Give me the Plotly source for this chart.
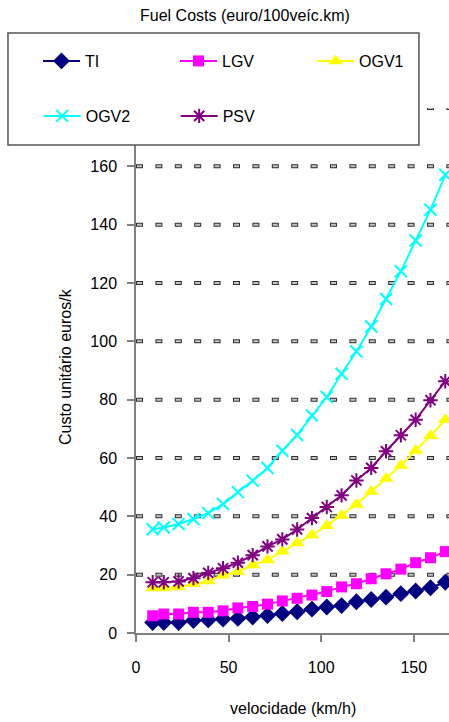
import plotly.graph_objects as go

# Vehicle speed (km/h)
speed = [9, 15, 23, 31, 39, 47, 55, 63, 71, 79, 87, 95, 103, 111, 119, 127, 135, 143, 151, 159, 167]

# Fuel cost per vehicle category (euro / 100 veh.km)
ti = [3.6, 3.6, 3.6, 4.3, 4.5, 4.8, 5.0, 5.5, 6.0, 6.7, 7.3, 8.2, 8.9, 9.4, 10.7, 11.5, 12.3, 13.5, 14.4, 15.5, 17.4]
lgv = [5.9, 6.5, 6.5, 7.1, 7.1, 7.6, 8.6, 9.1, 9.9, 11.0, 11.9, 13.0, 14.2, 15.8, 16.9, 18.6, 20.3, 21.9, 24.1, 25.8, 27.9]
ogv1 = [15.4, 15.4, 15.8, 16.9, 17.8, 19.8, 21.0, 23.3, 25.0, 28.0, 30.9, 33.6, 36.8, 40.3, 44.1, 48.5, 53.0, 57.4, 62.6, 67.6, 73.1]
ogv2 = [35.6, 36.2, 37.4, 39.1, 41.1, 44.2, 48.3, 52.2, 56.6, 62.5, 67.9, 74.6, 80.9, 88.9, 96.5, 105.1, 114.5, 124.0, 134.6, 145.1, 157.1]
psv = [17.4, 17.4, 17.7, 18.8, 20.6, 22.2, 24.1, 26.7, 29.7, 32.1, 35.5, 39.4, 43.2, 47.2, 52.3, 56.6, 62.3, 67.8, 73.1, 79.8, 86.3]

y_ticks = [0, 20, 40, 60, 80, 100, 120, 140, 160, 180]
y_tick_labels = ["0", "20", "40", "60", "80", "100", "120", "140", "160", ""]  # 180 sits under the legend box
x_ticks = [0, 50, 100, 150]

FONT = "Liberation Sans, Arial, sans-serif"

fig = go.Figure()

series = [
    ("TI", ti, "#000080", dict(symbol="diamond", size=13), "legend", None),
    ("LGV", lgv, "#FF00FF", dict(symbol="square", size=11), "legend", None),
    ("OGV1", ogv1, "#FFFF00", dict(symbol="triangle-up", size=13), "legend", None),
    ("OGV2", ogv2, "#00FFFF", dict(symbol="x-thin-open", size=12, line=dict(width=2, color="#00FFFF")), "legend2", None),
    ("PSV", psv, "#800080", dict(symbol="asterisk-open", size=12, line=dict(width=2, color="#800080")), "legend2", 34),
]
for name, vals, color, marker, leg, lw in series:
    fig.add_trace(go.Scatter(
        x=speed, y=vals, name=name, mode="lines+markers",
        line=dict(color=color, width=2),
        marker=dict(color=color, **marker),
        legend=leg, legendwidth=lw,
    ))

# Dashed horizontal gridlines: dark outline dashes with a grey core
shapes = []
for v in y_ticks[1:]:
    shapes.append(dict(type="line", xref="paper", yref="y", x0=0, x1=1, y0=v, y1=v,
                       line=dict(color="#303030", width=4, dash="7px,12.4px"), layer="below"))
    shapes.append(dict(type="line", xref="paper", yref="y", x0=0, x1=1, y0=v, y1=v,
                       line=dict(color="#C4C4C4", width=2, dash="0px,1px,5px,13.4px"), layer="below"))

# Legend frame
shapes.append(dict(type="rect", xref="paper", yref="paper", x0=-0.409, x1=0.904, y0=0.9295, y1=1.1429,
                   line=dict(color="#555555", width=1.5), fillcolor="white", layer="above"))

legend_style = dict(orientation="h", xanchor="left", yanchor="middle",
                    bgcolor="rgba(0,0,0,0)", borderwidth=0,
                    font=dict(family=FONT, size=16, color="black"),
                    entrywidthmode="pixels", entrywidth=85, itemwidth=37)

fig.update_layout(
    width=449, height=722,
    margin=dict(l=136, r=0, t=108, b=89),
    paper_bgcolor="white", plot_bgcolor="white",
    font=dict(family=FONT, size=16, color="black"),
    showlegend=True,
    legend=dict(x=-0.3109, y=1.0895, **legend_style),
    legend2=dict(x=-0.3109, y=0.9848, **legend_style),
    shapes=shapes,
    xaxis=dict(range=[0, 169], tickvals=x_ticks, showgrid=False, zeroline=False,
               showline=True, linecolor="#808080", linewidth=1.5,
               ticks="outside", ticklen=7, tickcolor="#808080", tickwidth=1.5,
               ticklabelstandoff=12, tickfont=dict(size=16)),
    yaxis=dict(range=[0, 180], tickvals=y_ticks, ticktext=y_tick_labels,
               showgrid=False, zeroline=False,
               showline=True, linecolor="#808080", linewidth=1.5,
               ticks="outside", ticklen=7, tickcolor="#808080", tickwidth=1.5,
               ticklabelstandoff=7, tickfont=dict(size=16)),
    annotations=[
        dict(text="Fuel Costs (euro/100veíc.km)", xref="paper", yref="paper",
             x=0.348, y=1.1771, xanchor="center", yanchor="middle",
             showarrow=False, font=dict(size=16)),
        dict(text="Custo unitário euros/k", xref="paper", yref="paper",
             x=-0.2236, y=0.5067, xanchor="center", yanchor="middle",
             showarrow=False, textangle=-90, font=dict(size=16)),
        dict(text="velocidade (km/h)", xref="paper", yref="paper",
             x=0.5016, y=-0.1429, xanchor="center", yanchor="middle",
             showarrow=False, font=dict(size=16)),
    ],
)

fig.write_html("out.html")
